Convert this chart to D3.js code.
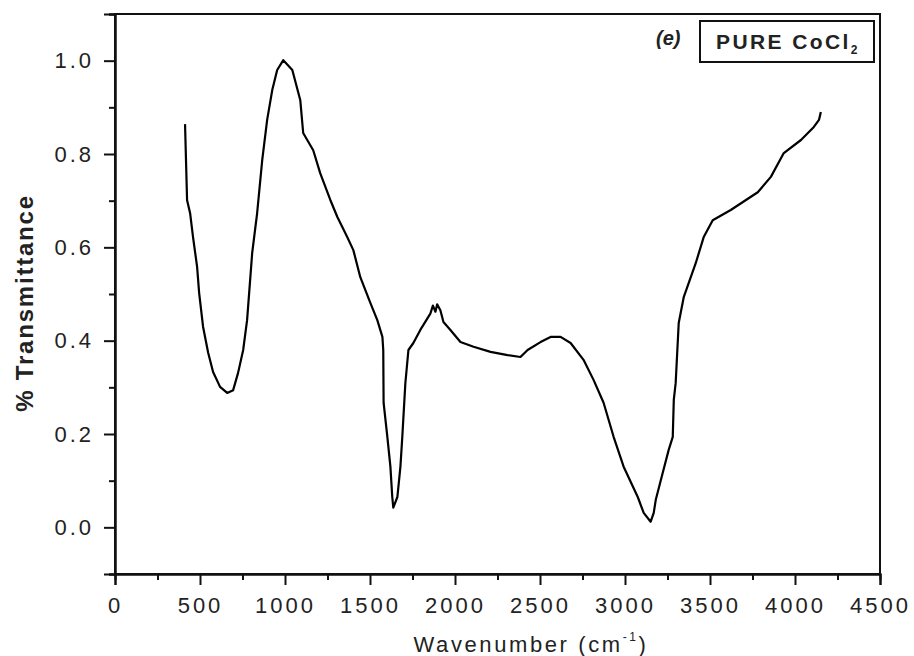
<!DOCTYPE html>
<html>
<head>
<meta charset="utf-8">
<script src="https://cdn.jsdelivr.net/npm/d3@7"></script>
<style>
  html, body { margin: 0; padding: 0; background: #fff; }
  svg { display: block; }
  text { font-family: "Liberation Sans", Arial, sans-serif; fill: #222; }
</style>
</head>
<body>
<svg id="chart" width="914" height="656"></svg>
<script>
// ---- Data ----
const wavenumber = [412, 424, 442, 459, 483, 495, 518, 548, 577, 618, 660, 695, 724, 754, 777, 807, 836, 866, 895, 925, 954, 990, 1043, 1090, 1107, 1166, 1207, 1266, 1308, 1366, 1402, 1443, 1502, 1543, 1573, 1578, 1580, 1602, 1620, 1631, 1637, 1661, 1679, 1690, 1708, 1726, 1755, 1796, 1855, 1870, 1885, 1895, 1914, 1932, 1973, 2032, 2109, 2209, 2309, 2385, 2427, 2503, 2562, 2621, 2680, 2756, 2815, 2874, 2933, 2992, 3075, 3110, 3151, 3169, 3181, 3222, 3257, 3281, 3287, 3298, 3316, 3346, 3375, 3416, 3463, 3516, 3622, 3781, 3858, 3934, 4035, 4111, 4141, 4152];
const transmittance = [0.864, 0.701, 0.673, 0.622, 0.558, 0.502, 0.430, 0.374, 0.333, 0.301, 0.288, 0.294, 0.331, 0.380, 0.444, 0.588, 0.673, 0.787, 0.873, 0.937, 0.980, 1.001, 0.980, 0.915, 0.845, 0.808, 0.759, 0.702, 0.665, 0.622, 0.594, 0.536, 0.481, 0.444, 0.408, 0.380, 0.267, 0.194, 0.130, 0.065, 0.042, 0.065, 0.130, 0.194, 0.309, 0.380, 0.395, 0.423, 0.458, 0.475, 0.462, 0.478, 0.465, 0.440, 0.423, 0.397, 0.387, 0.376, 0.369, 0.365, 0.380, 0.397, 0.408, 0.408, 0.395, 0.359, 0.316, 0.267, 0.194, 0.130, 0.065, 0.031, 0.012, 0.031, 0.059, 0.117, 0.166, 0.194, 0.273, 0.309, 0.438, 0.494, 0.524, 0.566, 0.622, 0.658, 0.680, 0.718, 0.751, 0.802, 0.830, 0.858, 0.873, 0.890];
const xMajorTicks = [0, 500, 1000, 1500, 2000, 2500, 3000, 3500, 4000, 4500];
const xMinorTicks = [250, 750, 1250, 1750, 2250, 2750, 3250, 3750, 4250];
const yMajorTicks = [0.0, 0.2, 0.4, 0.6, 0.8, 1.0];
const yMinorTicks = [-0.1, 0.1, 0.3, 0.5, 0.7, 0.9, 1.1];
const xDomain = [0, 4500];
const yDomain = [-0.1, 1.1];
const xTitle = "Wavenumber (cm";
const yTitle = "% Transmittance";
const legendText = "PURE CoCl";
const panelLabel = "(e)";

// ---- Layout ----
const L = 115, R = 880, T = 14, B = 574;
const svg = d3.select("#chart");

const x = d3.scaleLinear().domain(xDomain).range([L, R]);
const y = d3.scaleLinear().domain(yDomain).range([B, T]);

// Frame
svg.append("rect")
  .attr("x", L).attr("y", T).attr("width", R - L).attr("height", B - T)
  .attr("fill", "none").attr("stroke", "#111").attr("stroke-width", 2);

// X axis
const gx = svg.append("g").attr("transform", `translate(0,${B})`);
gx.call(d3.axisBottom(x).tickValues(xMajorTicks).tickSize(11).tickPadding(12).tickFormat(d3.format("d")));
const gxm = svg.append("g").attr("transform", `translate(0,${B})`);
gxm.call(d3.axisBottom(x).tickValues(xMinorTicks).tickSize(6).tickFormat(""));

// Y axis
const gy = svg.append("g").attr("transform", `translate(${L},0)`);
gy.call(d3.axisLeft(y).tickValues(yMajorTicks).tickSize(11).tickPadding(10).tickFormat(d3.format(".1f")));
const gym = svg.append("g").attr("transform", `translate(${L},0)`);
gym.call(d3.axisLeft(y).tickValues(yMinorTicks).tickSize(6).tickFormat(""));

svg.selectAll(".domain").attr("stroke", "#111").attr("stroke-width", 2);
svg.selectAll(".tick line").attr("stroke", "#111").attr("stroke-width", 2);
gx.selectAll(".tick text")
  .attr("font-size", 22).attr("letter-spacing", "3px").attr("fill", "#222")
  .attr("font-family", "Liberation Sans, Arial, sans-serif");
gy.selectAll(".tick text")
  .attr("font-size", 22).attr("letter-spacing", "3px").attr("fill", "#222")
  .attr("font-family", "Liberation Sans, Arial, sans-serif");

// Line
const pts = wavenumber.map((w, i) => [w, transmittance[i]]);
svg.append("path")
  .datum(pts)
  .attr("fill", "none")
  .attr("stroke", "#000")
  .attr("stroke-width", 2.2)
  .attr("stroke-linejoin", "round")
  .attr("d", d3.line().x(d => x(d[0])).y(d => y(d[1])));

// X title
const xt = svg.append("text")
  .attr("x", 531).attr("y", 652)
  .attr("text-anchor", "middle")
  .attr("font-size", 22).attr("letter-spacing", "2.6px");
xt.append("tspan").text(xTitle);
xt.append("tspan").attr("font-size", 12).attr("dy", -11).text("-1");
xt.append("tspan").attr("dy", 11).text(")");

// Y title
svg.append("text")
  .attr("transform", "translate(33,303) rotate(-90)")
  .attr("text-anchor", "middle")
  .attr("font-size", 24).attr("font-weight", "bold").attr("letter-spacing", "1.8px")
  .text(yTitle);

// Legend box
svg.append("rect")
  .attr("x", 700).attr("y", 21).attr("width", 174).attr("height", 41)
  .attr("fill", "#fff").attr("stroke", "#111").attr("stroke-width", 2);
const lt = svg.append("text")
  .attr("x", 716).attr("y", 49)
  .attr("font-size", 21).attr("font-weight", "bold").attr("letter-spacing", "2.4px");
lt.append("tspan").text(legendText);
lt.append("tspan").attr("font-size", 12).attr("dy", 5).text("2");

// Panel label
svg.append("text")
  .attr("x", 656).attr("y", 45)
  .attr("font-size", 20).attr("font-weight", "bold").attr("font-style", "italic")
  .attr("fill", "#223")
  .text(panelLabel);
</script>
</body>
</html>
